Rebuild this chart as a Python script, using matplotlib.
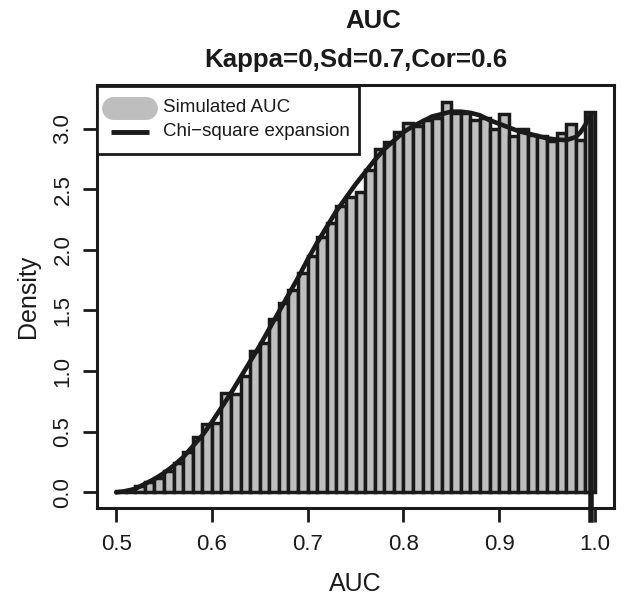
import numpy as np
import matplotlib
matplotlib.use("Agg")
import matplotlib.pyplot as plt
from matplotlib.lines import Line2D
from matplotlib.patches import Rectangle

plt.rcParams['font.family'] = ['Liberation Sans', 'DejaVu Sans']

# Histogram bins (left edges) and densities
bin_width = 0.01
bin_lefts = [0.50 + 0.01 * i for i in range(50)]
densities = [0.01, 0.02, 0.05, 0.085, 0.118, 0.18, 0.24, 0.33, 0.46, 0.56,
             0.57, 0.82, 0.81, 0.96, 1.17, 1.23, 1.43, 1.56, 1.67, 1.81,
             1.95, 2.11, 2.22, 2.36, 2.44, 2.48, 2.66, 2.83, 2.89, 2.97,
             3.05, 3.02, 3.07, 3.09, 3.22, 3.13, 3.13, 3.07, 3.09, 3.00,
             3.12, 2.94, 3.00, 2.95, 2.94, 2.90, 2.96, 3.04, 2.91, 3.14]

# Chi-square expansion curve
curve_x = [0.50, 0.51, 0.52, 0.53, 0.54, 0.55, 0.56, 0.57, 0.58, 0.59,
           0.60, 0.61, 0.62, 0.63, 0.64, 0.65, 0.66, 0.67, 0.68, 0.69,
           0.70, 0.71, 0.72, 0.73, 0.74, 0.75, 0.76, 0.77, 0.78, 0.79,
           0.80, 0.81, 0.82, 0.83, 0.84, 0.85, 0.86, 0.87, 0.88, 0.89,
           0.90, 0.91, 0.92, 0.93, 0.94, 0.95, 0.96, 0.97, 0.98, 0.985,
           0.99, 0.995]
curve_y = [0.0, 0.01, 0.03, 0.07, 0.11, 0.16, 0.22, 0.29, 0.38, 0.47,
           0.58, 0.70, 0.82, 0.95, 1.08, 1.21, 1.35, 1.49, 1.63, 1.77,
           1.92, 2.06, 2.19, 2.32, 2.43, 2.54, 2.64, 2.74, 2.83, 2.90,
           2.97, 3.02, 3.06, 3.10, 3.12, 3.14, 3.14, 3.13, 3.11, 3.07,
           3.04, 3.01, 2.98, 2.96, 2.94, 2.92, 2.91, 2.905, 2.93, 2.97,
           3.03, 3.12]
drop_x = 0.9955
drop_y = [3.12, -0.23]

xticks = [0.5, 0.6, 0.7, 0.8, 0.9, 1.0]
yticks = [0.0, 0.5, 1.0, 1.5, 2.0, 2.5, 3.0]
legend_labels = ['Simulated AUC', 'Chi\u2212square expansion']

W, H = 630, 610
fig = plt.figure(figsize=(6.3, 6.1), dpi=100)
ax = fig.add_axes([0.154, 0.1672, 0.8206, 0.6935])

ink = '#1a1a1a'
ax.bar(bin_lefts, densities, width=bin_width, align='edge',
       color='#bebebe', edgecolor=ink, linewidth=2.5, zorder=2)
ax.plot(curve_x, curve_y, color=ink, linewidth=3.3,
        solid_capstyle='round', zorder=3)
ax.plot([drop_x, drop_x], drop_y, color=ink, linewidth=4,
        clip_on=False, zorder=3)

ax.set_xlim(0.48, 1.02)
ax.set_ylim(-0.129, 3.36)
ax.set_xticks(xticks)
ax.set_xticklabels(['%.1f' % t for t in xticks])
ax.set_yticks(yticks)
ax.set_yticklabels(['%.1f' % t for t in yticks], rotation=90, va='center')
ax.tick_params(axis='both', direction='out', length=10, width=2,
               labelsize=16, color=ink, labelcolor=ink)
ax.tick_params(axis='x', pad=9)
ax.tick_params(axis='y', pad=7)
for s in ax.spines.values():
    s.set_linewidth(2.2)
    s.set_color(ink)

ax.set_xlabel('AUC', fontsize=18, color=ink, labelpad=12)
ax.set_ylabel('Density', fontsize=18, color=ink, labelpad=9)

fig.text(373 / W, 1 - 21 / H, 'AUC', ha='center', va='center',
         fontsize=18.6, fontweight='bold', color=ink)
fig.text(356 / W, 1 - 60 / H, 'Kappa=0,Sd=0.7,Cor=0.6', ha='center',
         va='center', fontsize=18.6, fontweight='bold', color=ink)

# Legend (R-style, drawn in figure pixel coordinates)
def fx(px):
    return px / W

def fy(py):
    return 1 - py / H

fig.add_artist(Rectangle((fx(97), fy(154)), fx(359) - fx(97), fy(86) - fy(154),
                         transform=fig.transFigure, facecolor='white',
                         edgecolor=ink, linewidth=2.0, zorder=5))
fig.add_artist(Line2D([fx(113), fx(146)], [fy(108), fy(108)],
                      transform=fig.transFigure, color='#bebebe',
                      linewidth=16.5, solid_capstyle='round', zorder=6))
fig.add_artist(Line2D([fx(111), fx(149)], [fy(132), fy(132)],
                      transform=fig.transFigure, color=ink,
                      linewidth=3.5, solid_capstyle='butt', zorder=6))
fig.text(fx(163), fy(108), legend_labels[0], ha='left', va='center',
         fontsize=13.5, color=ink, zorder=7)
fig.text(fx(163), fy(132), legend_labels[1], ha='left', va='center',
         fontsize=13.5, color=ink, zorder=7)

fig.savefig('out.png', dpi=100)
